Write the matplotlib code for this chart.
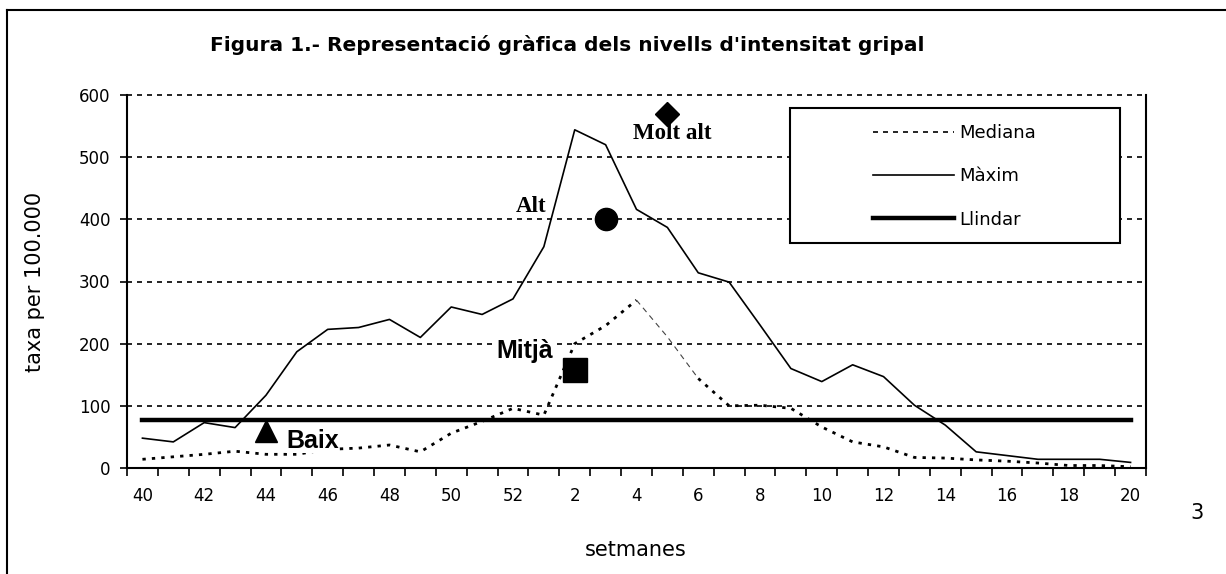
import numpy as np
import matplotlib.pyplot as plt
from matplotlib.lines import Line2D
from matplotlib.patches import Rectangle

# weeks of the flu season (40-52, then 1-20)
setmanes = list(range(40, 53)) + list(range(1, 21))
maxim = [48, 42, 73, 65, 117, 187, 223, 226, 239, 210, 259, 247, 272,
         356, 544, 520, 416, 387, 314, 299, 230, 160, 139, 166, 147, 101,
         69, 26, 20, 14, 14, 14, 9]
mediana = [14, 18, 22, 27, 22, 22, 30, 32, 37, 26, 56, 75, 96,
           85, 200, 229, 270, 211, 144, 100, 101, 96, 66, 42, 34, 17,
           16, 13, 11, 8, 4, 4, 2]
llindar = 78

# intensity levels (marker at week index, value)
nivells = ["Baix", "Mitjà", "Alt", "Molt alt"]
nivell_x = [4, 14, 15, 17]
nivell_y = [60, 158, 400, 570]
nivell_marker = ["^", "s", "o", "D"]
nivell_size = [16, 17, 16, 12]

x = np.arange(len(setmanes))

fig = plt.figure(figsize=(12.26, 5.74), dpi=100)
ax = fig.add_axes([127/1226, 1-468/574, 1019/1226, 373/574])

ax.set_ylim(0, 600)
ax.set_xlim(-0.5, len(setmanes) - 0.5)
ax.set_yticks(np.arange(0, 601, 100))
ax.yaxis.grid(True, color="black", linestyle=(0, (3, 3)), linewidth=1.2)
ax.set_axisbelow(True)
for gl in ax.get_ygridlines():
    gl.set_clip_on(False)

# median: dotted, with the thin dashed stretch around week 4-6
ax.plot(x[:17], mediana[:17], color="black", lw=2, linestyle=(0, (1.2, 2.2)), zorder=2)
ax.plot(x[16:19], mediana[16:19], color="#444444", lw=0.8, linestyle=(0, (5, 4)), zorder=2)
ax.plot(x[18:], mediana[18:], color="black", lw=2, linestyle=(0, (1.2, 2.2)), zorder=2)
ax.plot(x, maxim, color="black", lw=1.2, zorder=2)
ax.plot([x[0], x[-1]], [llindar, llindar], color="black", lw=3.2, zorder=2)

for xi, yi, m, s in zip(nivell_x, nivell_y, nivell_marker, nivell_size):
    ax.plot(xi, yi, marker=m, markersize=s, color="black", linestyle="none", zorder=4)

ax.text(4.65, 43, nivells[0], fontsize=18, fontweight="bold", family="Liberation Sans",
        va="center", ha="left", zorder=3,
        bbox=dict(facecolor="white", edgecolor="none", pad=0))
ax.text(11.45, 188, nivells[1], fontsize=18, fontweight="bold", family="Liberation Sans",
        va="center", ha="left", zorder=3,
        bbox=dict(facecolor="white", edgecolor="none", pad=0))
ax.text(12.59, 421, nivells[2], fontsize=16.5, fontweight="bold", family="Liberation Serif",
        va="center", ha="center", zorder=3)
ax.text(17.15, 538, nivells[3], fontsize=16.5, fontweight="bold", family="Liberation Serif",
        va="center", ha="center", zorder=3)

# category axis: ticks between weeks, labels every other week
ax.set_xticks(np.arange(-0.5, len(setmanes), 1))
ax.set_xticklabels([])
ax.set_xticks(x[::2], minor=True)
ax.set_xticklabels([str(setmanes[i]) for i in x[::2]], minor=True, fontsize=12)
ax.tick_params(axis="x", which="major", direction="out", length=6, width=1.2)
ax.tick_params(axis="x", which="minor", length=0, pad=14)
ax.tick_params(axis="y", direction="out", length=5, width=1.2, labelsize=12, pad=7)

for side in ["left", "bottom", "right"]:
    ax.spines[side].set_linewidth(1.5)
ax.spines["top"].set_visible(False)

ax.set_ylabel("taxa per 100.000", fontsize=15)
ax.yaxis.set_label_coords(-0.0805, 0.5)
ax.set_xlabel("setmanes", fontsize=15)
ax.xaxis.set_label_coords(0.4995, -0.193)

# legend box
ax.add_patch(Rectangle((0.6506, 0.603), 0.324, 0.362, transform=ax.transAxes,
                       facecolor="white", edgecolor="black", lw=1.5, zorder=5))
handles = [Line2D([], [], color="black", lw=1.2, linestyle=(0, (3, 3))),
           Line2D([], [], color="black", lw=1.2),
           Line2D([], [], color="black", lw=3.2)]
leg = ax.legend(handles, ["Mediana", "Màxim", "Llindar"], loc="upper left",
                bbox_to_anchor=(0.732, 0.922), frameon=False, fontsize=13,
                handlelength=4.5, handletextpad=0.3, labelspacing=1.4,
                borderpad=0, borderaxespad=0)
leg.set_zorder(6)

fig.text(567/1226, 1-45/574, "Figura 1.- Representació gràfica dels nivells d'intensitat gripal",
         fontsize=14.5, fontweight="bold", ha="center", va="center")
fig.text(1197/1226, 1-513/574, "3", fontsize=15, ha="center", va="center")

fig.add_artist(Line2D([7/1226, 7/1226], [0, 1-10/574], color="black", lw=1.5))
fig.add_artist(Line2D([7/1226, 1], [1-10/574, 1-10/574], color="black", lw=1.5))

fig.savefig("out.png", dpi=100)
